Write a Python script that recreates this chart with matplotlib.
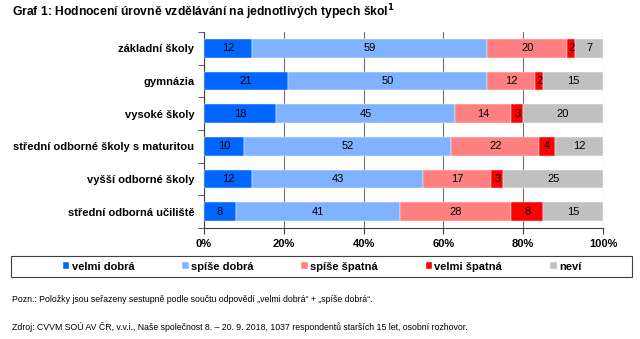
import matplotlib
matplotlib.use("Agg")
import matplotlib.pyplot as plt
from matplotlib.patches import Rectangle
import numpy as np

plt.rcParams['font.family'] = ['Liberation Sans', 'DejaVu Sans']

categories = ["základní školy", "gymnázia", "vysoké školy",
              "střední odborné školy s maturitou", "vyšší odborné školy",
              "střední odborná učiliště"]
series_names = ["velmi dobrá", "spíše dobrá", "spíše špatná", "velmi špatná", "neví"]
velmi_dobra = [12, 21, 18, 10, 12, 8]
spise_dobra = [59, 50, 45, 52, 43, 41]
spise_spatna = [20, 12, 14, 22, 17, 28]
velmi_spatna = [2, 2, 3, 4, 3, 8]
nevi = [7, 15, 20, 12, 25, 15]
xticks = [0, 20, 40, 60, 80, 100]
xtick_labels = ["0%", "20%", "40%", "60%", "80%", "100%"]

colors = ["#0066FF", "#80B3FF", "#FF8080", "#FF0000", "#C0C0C0"]
data = [velmi_dobra, spise_dobra, spise_spatna, velmi_spatna, nevi]

fig = plt.figure(figsize=(6.4, 3.39), dpi=100)
ax = fig.add_axes([204/640, 1 - 228/339, (603-204)/640, (228-32)/339])

y = np.arange(len(categories))
left = np.zeros(len(categories))
handles = []
for vals, col, name in zip(data, colors, series_names):
    vals = np.array(vals, dtype=float)
    bars = ax.barh(y, vals, left=left, height=0.58, color=col,
                   edgecolor='white', linewidth=0.3, label=name, zorder=3)
    handles.append(bars)
    for yi, l, v in zip(y, left, vals):
        ax.text(l + v/2, yi, f"{int(v)}", ha='center', va='center',
                fontsize=8, color='black', zorder=4)
    left += vals

ax.set_xlim(0, 100)
ax.set_ylim(len(categories) - 0.5, -0.5)
ax.set_xticks(xticks)
ax.set_xticklabels(xtick_labels, fontsize=8, fontweight='bold')
ax.set_yticks(y)
ax.set_yticklabels(categories, fontsize=8, fontweight='bold')
ax.tick_params(axis='y', length=0, pad=7)
ax.set_yticks(np.arange(-0.5, len(categories), 1), minor=True)
ax.tick_params(axis='y', which='minor', length=4, direction='out', color='#404040')
ax.tick_params(axis='x', length=4, direction='out', color='#404040', pad=4)
ax.grid(axis='x', color='#707070', linewidth=0.8, zorder=0)
for s in ['top', 'right']:
    ax.spines[s].set_visible(False)
for s in ['left', 'bottom']:
    ax.spines[s].set_color('#404040')
    ax.spines[s].set_linewidth(0.8)

# legend frame
fig.patches.append(Rectangle((11/640, 1 - 277/339), (632-11)/640, 21/339,
                             transform=fig.transFigure, fill=False,
                             edgecolor='#404040', linewidth=0.8))
leg = fig.legend(handles=handles, labels=series_names, loc='center',
                 bbox_to_anchor=(322/640, 1 - 266.5/339), ncol=5,
                 frameon=False,
                 prop={'size': 8, 'weight': 'bold'},
                 handlelength=0.6, handleheight=0.6, handletextpad=0.2,
                 columnspacing=4.3, borderpad=0.3)

fig.text(12/640, 1 - 12/339, "Graf 1: Hodnocení úrovně vzdělávání na jednotlivých typech škol$^{\\mathbf{1}}$",
         fontsize=8.7, fontweight='bold', va='center', ha='left')
fig.text(12/640, 1 - 300/339,
         "Pozn.: Položky jsou seřazeny sestupně podle součtu odpovědí „velmi dobrá“ + „spíše dobrá“.",
         fontsize=6.3, va='center', ha='left')
fig.text(12/640, 1 - 327/339,
         "Zdroj: CVVM SOÚ AV ČR, v.v.i., Naše společnost 8. – 20. 9. 2018, 1037 respondentů starších 15 let, osobní rozhovor.",
         fontsize=6.3, va='center', ha='left')

fig.savefig("out.png", dpi=100)
